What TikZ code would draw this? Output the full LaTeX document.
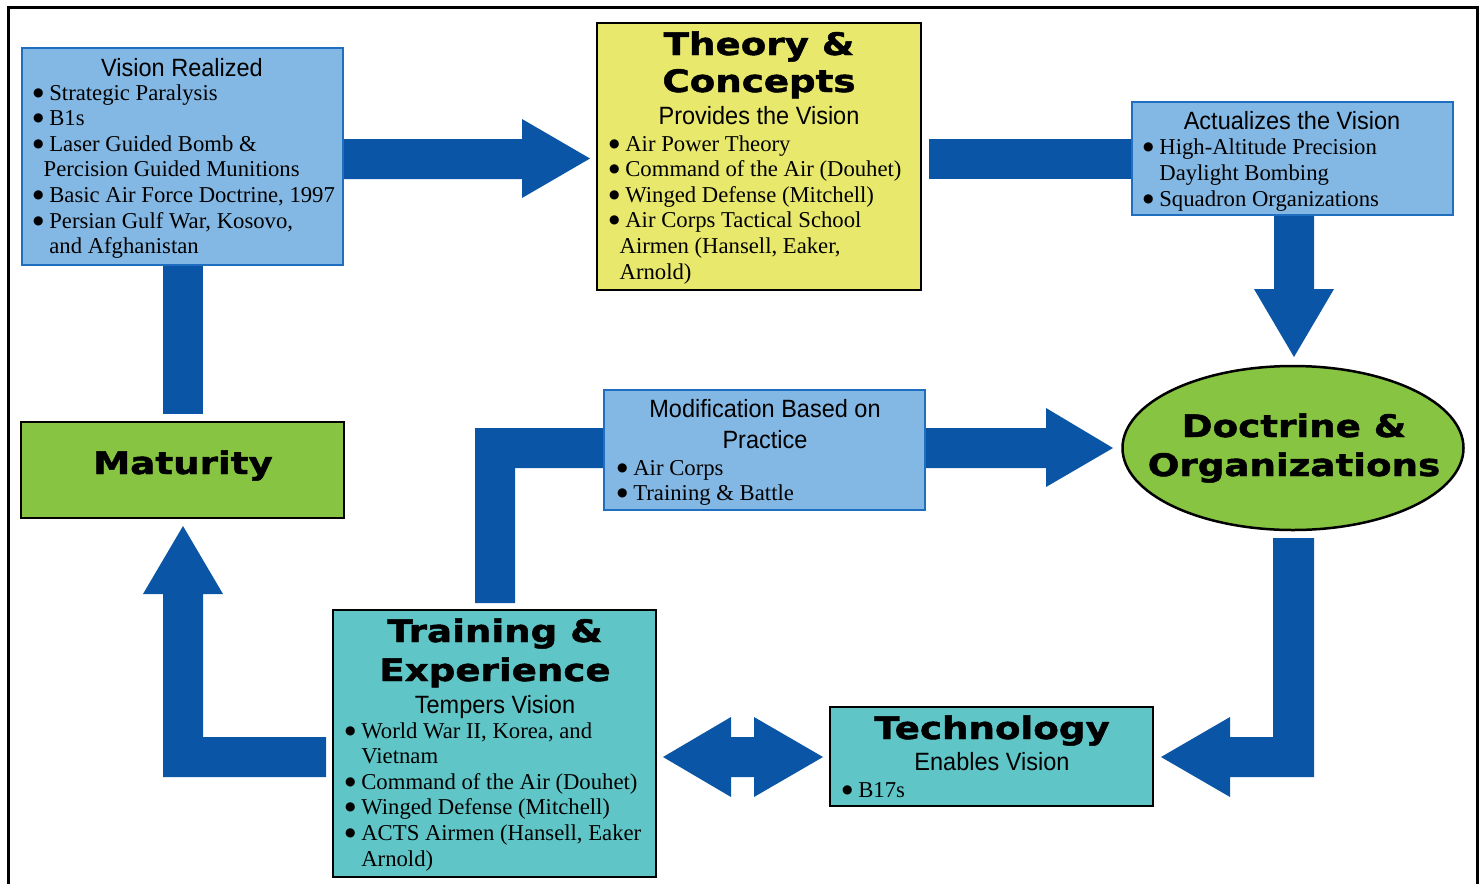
\documentclass[tikz,border=0pt]{standalone}
\usepackage{fontspec}
\setmainfont{Liberation Serif}
\newfontfamily\titlef{DejaVu Sans Bold}[FakeStretch=1.2,FakeBold=1.5]
\newfontfamily\subf{Liberation Sans}[FakeStretch=0.94]
\newfontfamily\bulf{DejaVu Sans}
\newcommand\mybul{\raisebox{4pt}{\bulf\fontsize{12}{12}\selectfont ●}}
\usetikzlibrary{shapes.geometric}
\pgfdeclarelayer{background}
\pgfsetlayers{background,main}
\definecolor{arrowblue}{HTML}{0A55A5}
\definecolor{lbfill}{HTML}{84B8E4}
\definecolor{lbline}{HTML}{1F6EBF}
\definecolor{yel}{HTML}{E8E86C}
\definecolor{grn}{HTML}{86C441}
\definecolor{tealbox}{HTML}{5FC5C6}
\tikzset{
  box/.style={rectangle, anchor=north west, inner sep=0pt, outer sep=0pt},
  lbbox/.style={box, draw=lbline, line width=2.5pt, fill=lbfill},
  blkbox/.style={box, draw=black, line width=2.8pt},
  titletext/.style={font=\titlef\fontsize{31}{31}\selectfont, inner sep=0pt, anchor=base},
  subtext/.style={font=\subf\fontsize{25}{25}\selectfont, inner sep=0pt, anchor=base},
  bodytext/.style={font=\fontsize{22.7}{25}\selectfont, inner sep=0pt, anchor=base west},
  blockarrow/.style={fill=arrowblue}
}
\begin{document}
\begin{tikzpicture}[x=1pt,y=-1pt]
\useasboundingbox (0,0) rectangle (1482,884);
% frame
\draw[line width=3pt] (8,884) -- (8,7) -- (1477,7) -- (1477,884);

% boxes
\node[lbbox, minimum width=321, minimum height=217] (vision) at (22,48) {};
\node[blkbox, fill=yel, minimum width=324, minimum height=267] (theory) at (597,23) {};
\node[lbbox, minimum width=321, minimum height=113] (actual) at (1132,102) {};
\node[ellipse, draw=black, line width=2.5pt, fill=grn, inner sep=0pt, minimum width=341, minimum height=164] (doctrine) at (1293,448) {};
\node[blkbox, fill=grn, minimum width=323, minimum height=96] (maturity) at (21,422) {};
\node[lbbox, minimum width=321, minimum height=120] (modif) at (604,390) {};
\node[blkbox, fill=tealbox, minimum width=323, minimum height=267] (training) at (333,610) {};
\node[blkbox, fill=tealbox, minimum width=323, minimum height=99] (tech) at (830,707) {};

% Vision Realized
\node[subtext] (visT) at (182,76) {Vision Realized};
\foreach \t [count=\i] in {{\mybul\ Strategic Paralysis},{\mybul\ B1s},{\mybul\ Laser Guided Bomb \&},{\hphantom{\mybul}Percision Guided Munitions},{\mybul\ Basic Air Force Doctrine, 1997},{\mybul\ Persian Gulf War, Kosovo,},{\hphantom{\mybul\ }and Afghanistan}}
  \node[bodytext, name=vis\i] at (33,{100+25.6*(\i-1)}) {\t};

% Theory & Concepts
\node[titletext] (thT1) at (759,55) {Theory \&};
\node[titletext] (thT2) at (759,92) {Concepts};
\node[subtext] (thS) at (759,124) {Provides the Vision};
\foreach \t [count=\i] in {{\mybul\ Air Power Theory},{\mybul\ Command of the Air (Douhet)},{\mybul\ Winged Defense (Mitchell)},{\mybul\ Air Corps Tactical School},{\hphantom{\mybul}Airmen (Hansell, Eaker,},{\hphantom{\mybul}Arnold)}}
  \node[bodytext, name=th\i] at (609,{151+25.6*(\i-1)}) {\t};

% Actualizes
\node[subtext] (acT) at (1292,129) {Actualizes the Vision};
\foreach \t [count=\i] in {{\mybul\ High-Altitude Precision},{\hphantom{\mybul\ }Daylight Bombing},{\mybul\ Squadron Organizations}}
  \node[bodytext, name=ac\i] at (1143,{154+26*(\i-1)}) {\t};

% Doctrine
\node[titletext] (doT1) at (1294,437) {Doctrine \&};
\node[titletext] (doT2) at (1294,476) {Organizations};

% Maturity
\node[titletext] (maT) at (183,474) {Maturity};

% Modification
\node[subtext] (moT1) at (765,417) {Modification Based on};
\node[subtext] (moT2) at (765,448) {Practice};
\node[bodytext] (mo1) at (617,475) {\mybul\ Air Corps};
\node[bodytext] (mo2) at (617,500) {\mybul\ Training \& Battle};

% Training & Experience
\node[titletext] (trT1) at (495,642) {Training \&};
\node[titletext] (trT2) at (495,681) {Experience};
\node[subtext] (trS) at (495,713) {Tempers Vision};
\foreach \t [count=\i] in {{\mybul\ World War II, Korea, and},{\hphantom{\mybul\ }Vietnam},{\mybul\ Command of the Air (Douhet)},{\mybul\ Winged Defense (Mitchell)},{\mybul\ ACTS Airmen (Hansell, Eaker},{\hphantom{\mybul\ }Arnold)}}
  \node[bodytext, name=tr\i] at (345,{738+25.6*(\i-1)}) {\t};

% Technology
\node[titletext] (teT) at (992,739) {Technology};
\node[subtext] (teS) at (992,770) {Enables Vision};
\node[bodytext] (te1) at (842,797) {\mybul\ B17s};

% block arrows
\begin{pgfonlayer}{background}
% vision -> theory
\fill[blockarrow] (vision.center |- 0,139) -- (522,139) -- (522,119) -- (590,158.5) -- (522,198) -- (522,179) -- (vision.center |- 0,179) -- cycle;
% theory -> actual
\fill[blockarrow] (929,139) rectangle (actual.center |- 0,179);
% actual -> doctrine
\fill[blockarrow] (actual.center -| 1274,0) -- (1274,289) -- (1254,289) -- (1294,357) -- (1334,289) -- (1314,289) -- (actual.center -| 1314,0) -- cycle;
% doctrine -> technology
\fill[blockarrow] (1273,538) -- (1273,737) -- (1230,737) -- (1230,717) -- (1161,757) -- (1230,797) -- (1230,777) -- (1314,777) -- (1314,538) -- cycle;
% training <-> technology
\fill[blockarrow] (663,757) -- (731,717) -- (731,737) -- (754,737) -- (754,717) -- (823,757) -- (754,797) -- (754,777) -- (731,777) -- (731,797) -- cycle;
% training -> maturity
\fill[blockarrow] (326,737) -- (203,737) -- (203,594) -- (223,594) -- (183,526) -- (143,594) -- (163,594) -- (163,777) -- (326,777) -- cycle;
% vision - maturity
\fill[blockarrow] (vision.center -| 163,0) rectangle (203,414);
% training -> modification
\fill[blockarrow] (475,603) -- (475,428) -- (modif.center |- 0,428) -- (modif.center |- 0,468) -- (515,468) -- (515,603) -- cycle;
% modification -> doctrine
\fill[blockarrow] (modif.center |- 0,428) -- (1046,428) -- (1046,408) -- (1113,448) -- (1046,487) -- (1046,468) -- (modif.center |- 0,468) -- cycle;
\end{pgfonlayer}
\end{tikzpicture}
\end{document}
